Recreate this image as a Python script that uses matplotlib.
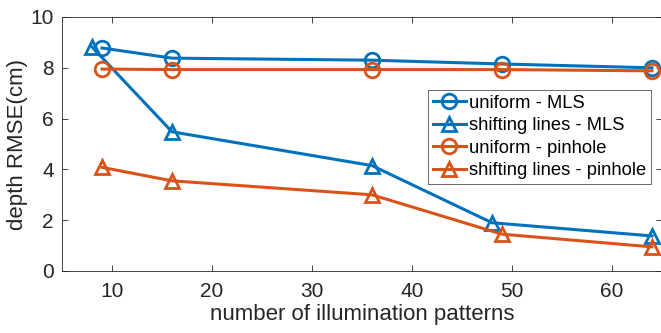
import matplotlib
matplotlib.use("Agg")
import matplotlib.pyplot as plt

plt.rcParams['font.family'] = ['Liberation Sans', 'DejaVu Sans']

# data
x_uni = [9, 16, 36, 49, 64]
x_shift_mls = [8, 16, 36, 48, 64]
x_shift_pin = [9, 16, 36, 49, 64]

uniform_mls = [8.78, 8.38, 8.3, 8.15, 8.0]
shifting_mls = [8.82, 5.48, 4.15, 1.9, 1.38]
uniform_pin = [7.95, 7.93, 7.93, 7.93, 7.88]
shifting_pin = [4.08, 3.55, 3.0, 1.45, 0.95]

labels = ['uniform - MLS', 'shifting lines - MLS',
          'uniform - pinhole', 'shifting lines - pinhole']

blue = '#0072BD'
orange = '#D95319'

fig = plt.figure(figsize=(6.61, 3.33), dpi=100)
ax = fig.add_axes([62/661, 1 - 271/333, 600/661, 254/333])

kw = dict(lw=2.2, ms=10.5, mew=2, mfc='none')
ax.plot(x_uni, uniform_mls, '-o', color=blue, label=labels[0], **kw)
ax.plot(x_shift_mls, shifting_mls, '-^', color=blue, label=labels[1], **kw)
ax.plot(x_uni, uniform_pin, '-o', color=orange, label=labels[2], **kw)
ax.plot(x_shift_pin, shifting_pin, '-^', color=orange, label=labels[3], **kw)

ax.set_xlim(5, 65)
ax.set_ylim(0, 10)
ax.set_xticks([10, 20, 30, 40, 50, 60])
ax.set_yticks([0, 2, 4, 6, 8, 10])
ax.tick_params(direction='in', top=True, right=True, labelsize=15,
               colors='#262626', length=4, width=0.6)
ax.tick_params(axis='x', pad=8)
ax.tick_params(axis='y', pad=6)
for s in ax.spines.values():
    s.set_color('#262626')
    s.set_linewidth(0.6)

ax.set_xlabel('number of illumination patterns', fontsize=16, color='#262626',
              labelpad=2)
ax.set_ylabel('depth RMSE(cm)', fontsize=16, color='#262626', labelpad=2)

leg = ax.legend(loc='upper left', bbox_to_anchor=(366/600, 1 - 73/254),
                fontsize=13.2, frameon=True, fancybox=False, handlelength=1.8,
                handletextpad=0.2, borderpad=0.25, labelspacing=0.3,
                borderaxespad=0)
leg.get_frame().set_edgecolor('#262626')
leg.get_frame().set_linewidth(0.6)

fig.savefig('out.png', dpi=100)
